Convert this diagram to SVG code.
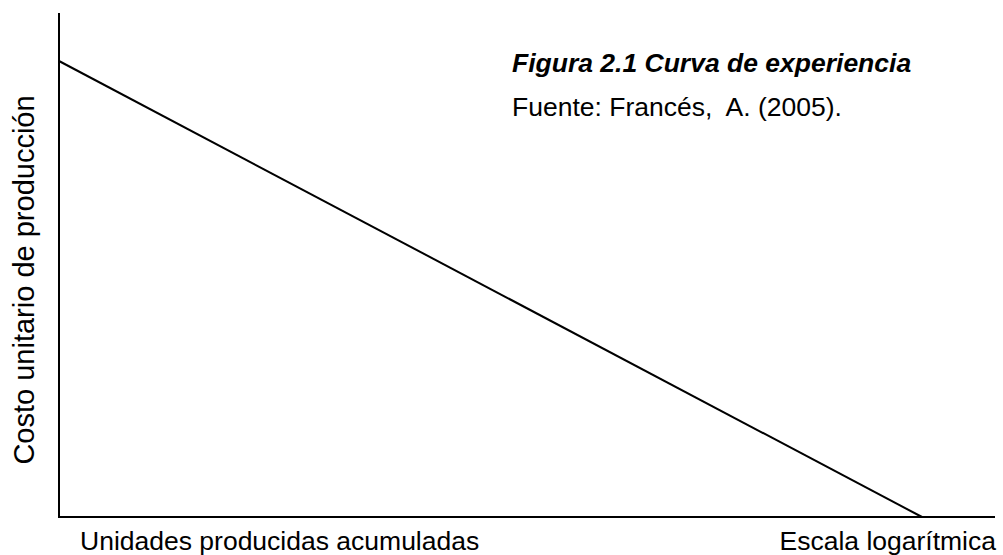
<svg xmlns="http://www.w3.org/2000/svg" width="1003" height="555" viewBox="0 0 1003 555">
<style>
text{font-family:"Liberation Sans",Arial,sans-serif;font-size:26.5px;fill:#000}
.ax{stroke:#000;stroke-width:2;fill:none}
</style>
<rect width="1003" height="555" fill="#fff"/>
<g id="connectors">
<line class="ax" x1="59" y1="13" x2="59" y2="517"/>
<line class="ax" x1="58" y1="517" x2="995" y2="517"/>
<line class="ax" x1="59" y1="61" x2="922" y2="517"/>
</g>
<g id="title">
<text x="512" y="72" font-weight="bold" font-style="italic">Figura 2.1 Curva de experiencia</text>
<text x="512" y="116" xml:space="preserve">Fuente: Francés,  A. (2005).</text>
</g>
<g id="y-label"><text transform="translate(34,280) rotate(-90)" text-anchor="middle" style="font-size:29px">Costo unitario de producción</text></g>
<g id="x-label"><text x="80" y="550">Unidades producidas acumuladas</text></g>
<g id="x-scale"><text x="996" y="550" text-anchor="end">Escala logarítmica</text></g>
</svg>
